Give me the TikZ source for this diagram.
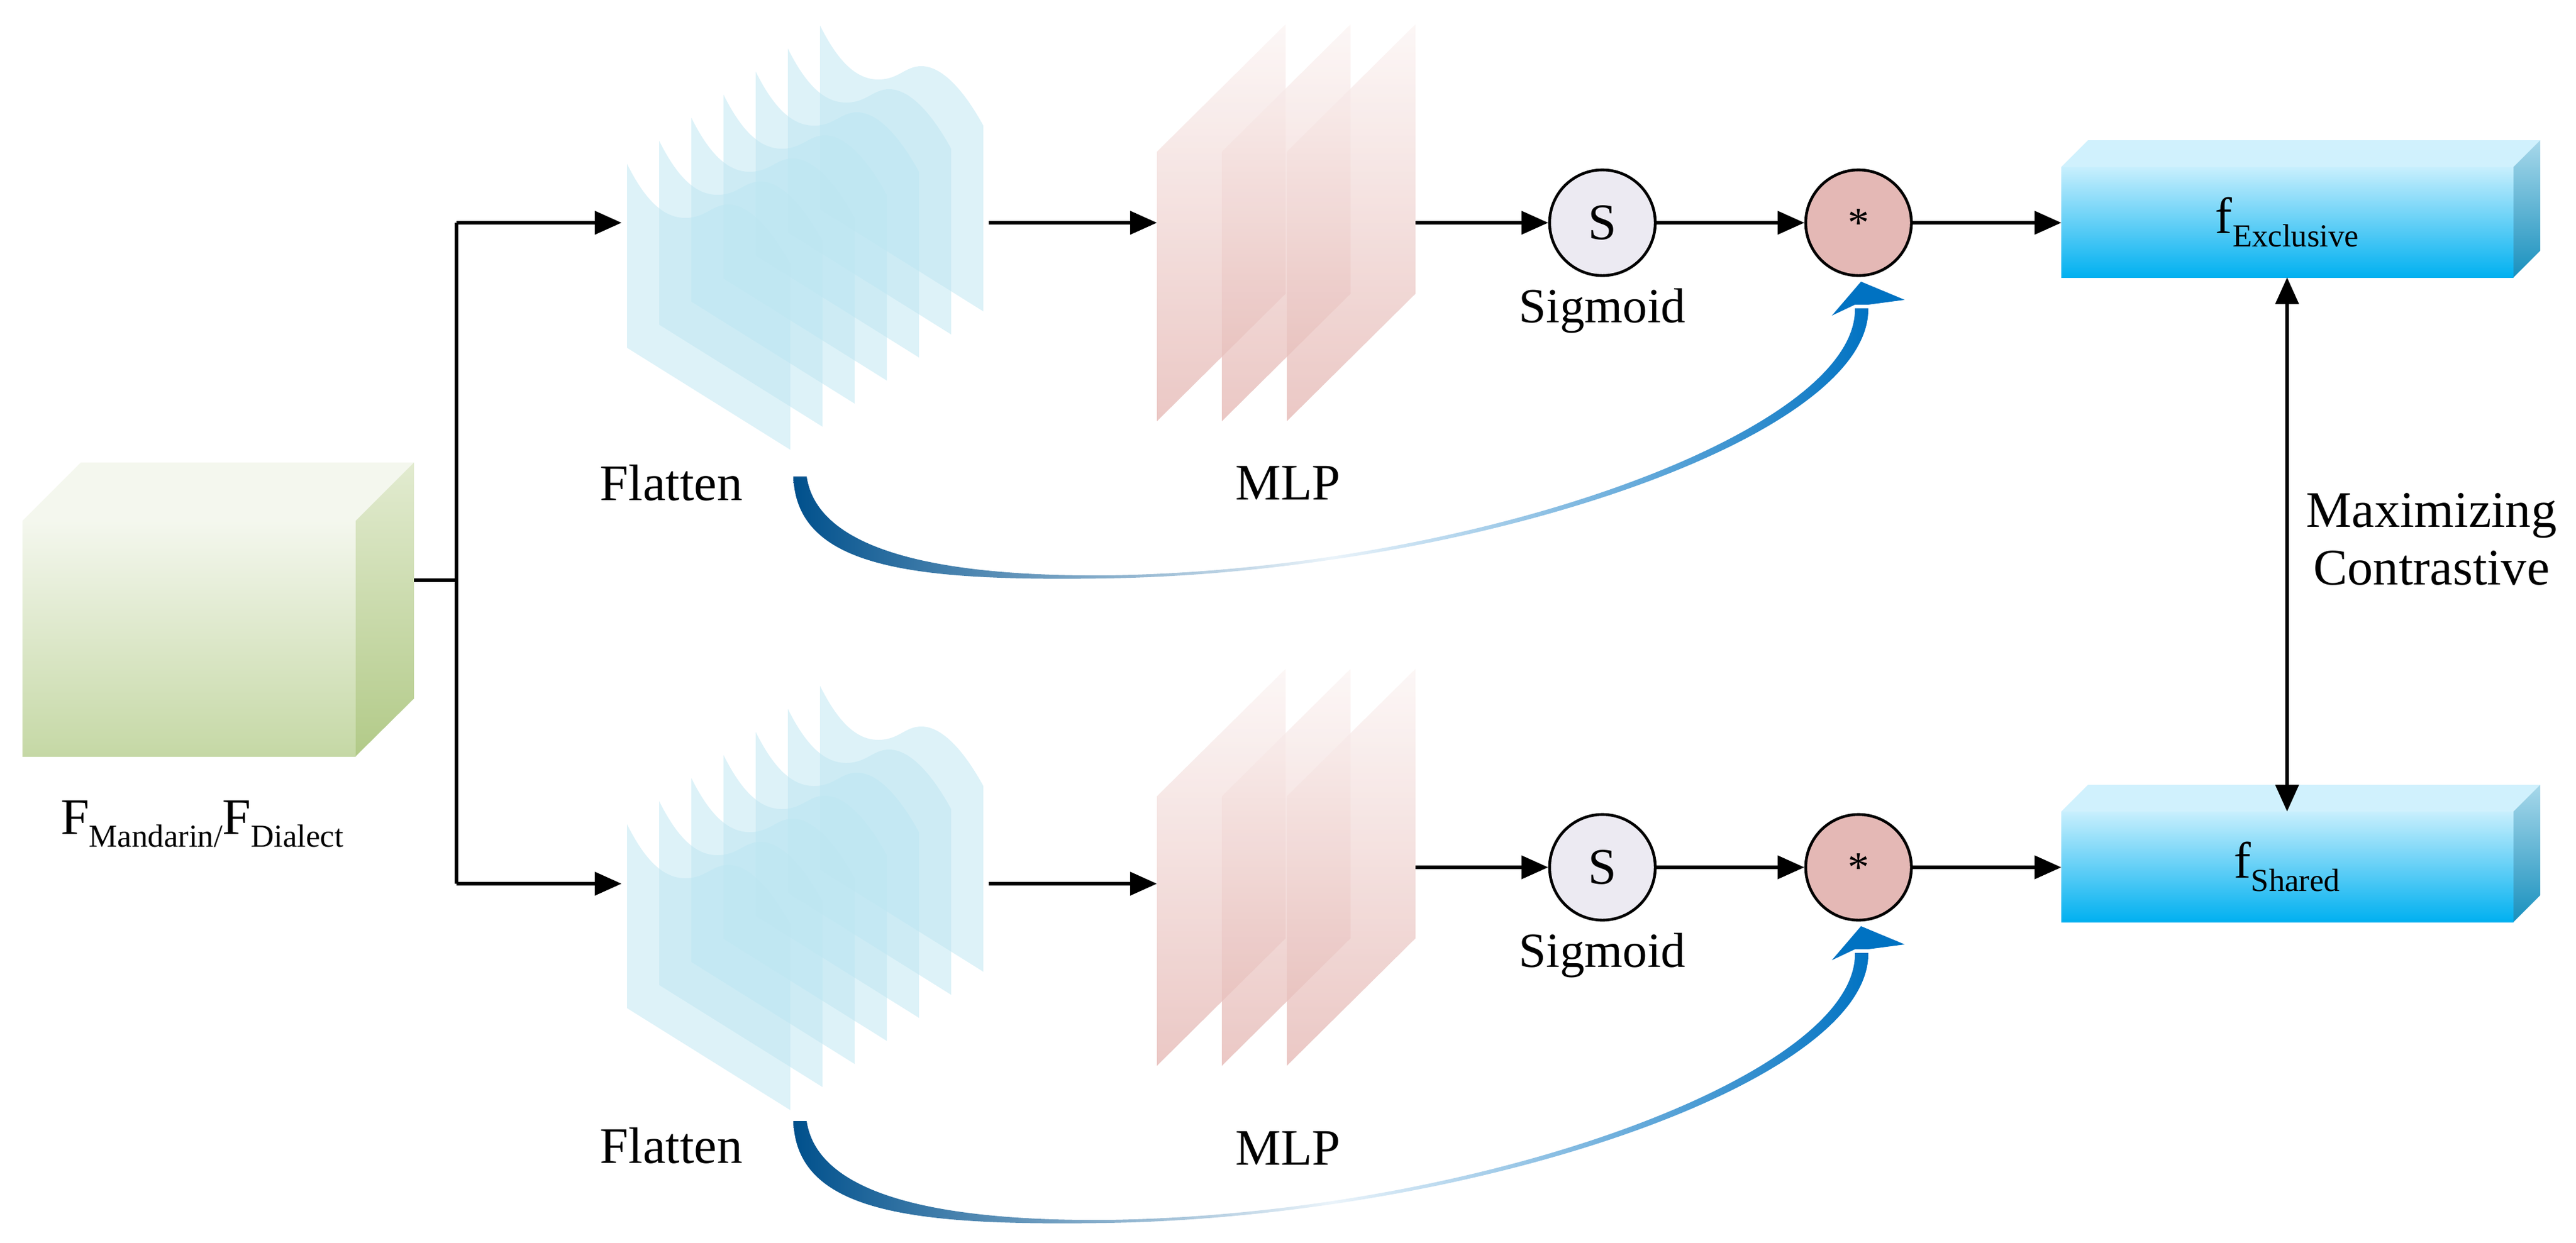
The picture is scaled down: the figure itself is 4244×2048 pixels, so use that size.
\documentclass[tikz,border=0pt]{standalone}
\usepackage{fontspec}
\setmainfont{Liberation Serif}
\usetikzlibrary{arrows.meta}
\newcommand\mysub[1]{\raisebox{-6pt}{\fontsize{15}{15}\selectfont #1}}
\definecolor{gtop}{HTML}{F4F7EE}\definecolor{gbot}{HTML}{C5D8A5}
\definecolor{gside1}{HTML}{E2EBD0}\definecolor{gside2}{HTML}{B2CA88}
\definecolor{btop}{HTML}{C8EFFD}\definecolor{bbot}{HTML}{00B0F0}
\definecolor{bside1}{HTML}{A8D8EA}\definecolor{bside2}{HTML}{1890BE}
\definecolor{flat}{HTML}{BCE5F1}
\definecolor{mtop}{HTML}{FBF4F3}\definecolor{mbot}{HTML}{E4B5B1}
\definecolor{sfill}{HTML}{ECEAF2}\definecolor{mulfill}{HTML}{E4B8B5}
\definecolor{navy}{HTML}{00508C}\definecolor{lblue}{HTML}{0072C2}
\tikzset{
 arr/.style={line width=1.5pt,-{Triangle[length=0.44cm,width=0.38cm]}},
 ln/.style={line width=1.5pt},
 lab/.style={font=\fontsize{24}{28}\selectfont, inner sep=0pt},
 circ/.style={circle, draw=black, line width=1.3pt, minimum size=1.74cm, inner sep=0pt, font=\fontsize{24}{28}\selectfont}
}
\newcommand\flatstack{%
 \foreach \i in {6,5,...,0}{
  \pgfmathsetmacro\L{1033+53*\i}\pgfmathsetmacro\T{270-38*\i}
  \fill[flat, opacity=0.5] (\L,\T) .. controls (\L+30,\T+60) and (\L+60,\T+89) .. (\L+96,\T+89)
   .. controls (\L+130,\T+89) and (\L+140,\T+67) .. (\L+167,\T+67)
   .. controls (\L+210,\T+67) and (\L+250,\T+130) .. (\L+269,\T+165)
   -- (\L+269,\T+471) -- (\L,\T+303) -- cycle;
 }}
\newcommand\mlpstack{%
 \foreach \j in {0,1,2}{
  \pgfmathsetmacro\L{1906+107*\j}
  \shade[top color=mtop, bottom color=mbot, opacity=0.75] (\L,250) -- (\L+212,40) -- (\L+212,484) -- (\L,694) -- cycle;
 }}
\newcommand\bluearc{%
 \shade[left color=navy, right color=lblue, middle color=lblue!8] (1307,785) .. controls (1312,935) and (1500,958) .. (1822,953)
   .. controls (2430,943) and (3082,720) .. (3078,508) -- (3056,508)
   .. controls (3060,712) and (2425,940) .. (1822,948)
   .. controls (1510,950) and (1345,895) .. (1329,785) -- cycle;
 \fill[lblue] (3066,464) -- (3138,494) -- (3078,502) -- (3056,502) -- (3018,520) -- cycle;}
\begin{document}
\begin{tikzpicture}[x=0.01cm,y=-0.01cm]
\useasboundingbox (0,0) rectangle (4244,2048);
% input block
\shade[top color=gtop, bottom color=gbot] (37,858) rectangle (586,1246);
\fill[gtop] (37,858) -- (133,762) -- (682,762) -- (586,858) -- cycle;
\shade[top color=gside1, bottom color=gside2] (586,858) -- (682,762) -- (682,1151) -- (586,1246) -- cycle;
\coordinate (in) at (682,956);
\coordinate (jn) at (752,956);
\coordinate (jt) at (752,367);
\coordinate (jb) at (752,1456);
\node[lab] (inlab) at (333,1358) {F\mysub{Mandarin}\mysub{/}F\mysub{Dialect}};
\draw[ln] (in) -- (jn);
\draw[ln] (jt) -- (jb);
% top branch
\flatstack
\mlpstack
\coordinate (f1in) at (1024,367);
\coordinate (f1out) at (1629,367);
\coordinate (m1in) at (1906,367);
\coordinate (m1out) at (2332,367);
\node[lab] (flat1) at (1106,796) {Flatten};
\node[lab] (mlp1) at (2122,796) {MLP};
\node[circ, fill=sfill] (s1) at (2640,367) {S};
\node[circ, fill=mulfill, font=\fontsize{20}{24}\selectfont] (x1) at (3062,367) {*};
\node[lab, font=\fontsize{23}{27}\selectfont] (sg1) at (2640,512) {Sigmoid};
\bluearc
% exclusive box
\shade[top color=btop, bottom color=bbot] (3396,275) rectangle (4141,457);
\fill[btop!85!white] (3396,275) -- (3440,231) -- (4185,231) -- (4141,275) -- cycle;
\shade[top color=bside1, bottom color=bside2] (4141,275) -- (4185,231) -- (4185,413) -- (4141,457) -- cycle;
\node[lab] (ex) at (3768,366) {f\mysub{Exclusive}};
\coordinate (exl) at (3396,367);
\coordinate (exb) at (3768,457);
\draw[arr] (jt) -- (f1in);
\draw[arr] (f1out) -- (m1in);
\draw[arr] (m1out) -- (s1);
\draw[arr] (s1) -- (x1);
\draw[arr] (x1) -- (exl);
% bottom branch
\begin{scope}[shift={(0,1088)}]
\flatstack
\coordinate (f2in) at (1024,368);
\coordinate (f2out) at (1629,368);
\node[lab] (flat2) at (1106,800) {Flatten};
\end{scope}
\begin{scope}[shift={(0,1062)}]
\mlpstack
\coordinate (m2in) at (1906,394);
\coordinate (m2out) at (2332,367);
\node[lab] (mlp2) at (2122,830) {MLP};
\node[circ, fill=sfill] (s2) at (2640,367) {S};
\node[circ, fill=mulfill, font=\fontsize{20}{24}\selectfont] (x2) at (3062,367) {*};
\node[lab, font=\fontsize{23}{27}\selectfont] (sg2) at (2640,512) {Sigmoid};
\bluearc
\shade[top color=btop, bottom color=bbot] (3396,275) rectangle (4141,457);
\fill[btop!85!white] (3396,275) -- (3440,231) -- (4185,231) -- (4141,275) -- cycle;
\shade[top color=bside1, bottom color=bside2] (4141,275) -- (4185,231) -- (4185,413) -- (4141,457) -- cycle;
\node[lab] (sh) at (3768,366) {f\mysub{Shared}};
\coordinate (shl) at (3396,367);
\coordinate (sht) at (3768,275);
\end{scope}
\draw[arr] (jb) -- (f2in);
\draw[arr] (f2out) -- (m2in);
\draw[arr] (m2out) -- (s2);
\draw[arr] (s2) -- (x2);
\draw[arr] (x2) -- (shl);
\draw[ln,{Triangle[length=0.44cm,width=0.38cm]}-{Triangle[length=0.44cm,width=0.38cm]}] (exb) -- (sht);
\node[lab, align=center, font=\fontsize{24}{27}\selectfont] (mc) at (4006,888) {Maximizing\\Contrastive};
\end{tikzpicture}
\end{document}
